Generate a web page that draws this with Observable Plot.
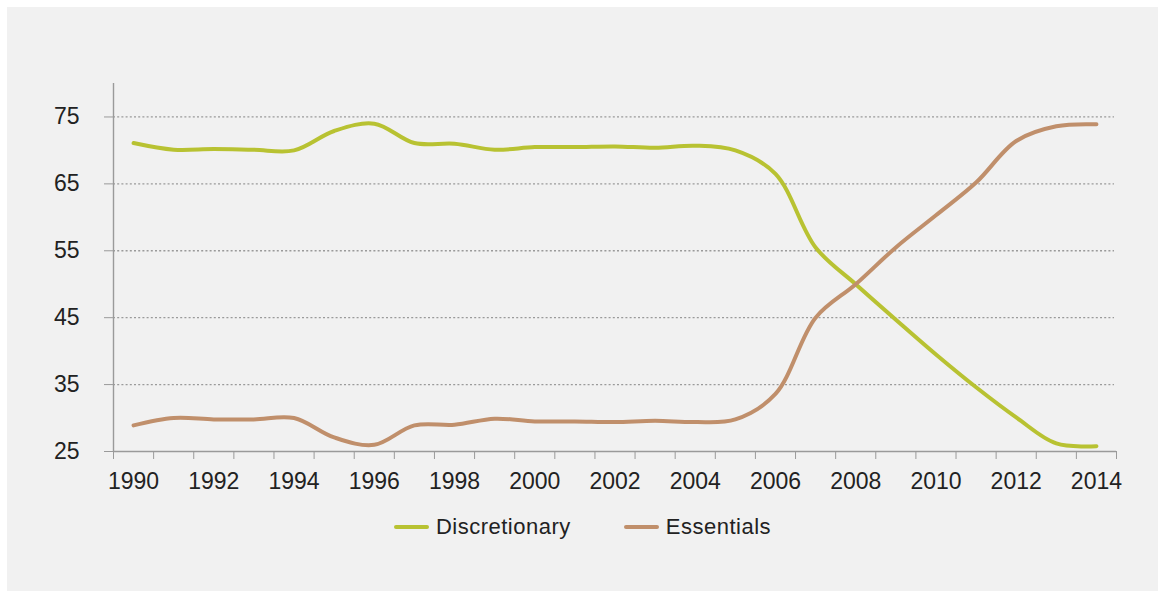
<!DOCTYPE html>
<html>
<head>
<meta charset="utf-8">
<script src="https://cdn.jsdelivr.net/npm/d3@7"></script>
<script src="https://cdn.jsdelivr.net/npm/@observablehq/plot@0.6"></script>
<style>
  html, body { margin: 0; padding: 0; background: #ffffff; }
  #panel {
    position: absolute; left: 7px; top: 7px; width: 1151px; height: 584px;
    background: #f1f1f1; font-family: "Liberation Sans", Arial, Helvetica, sans-serif;
  }
  #legend {
    position: absolute; left: 0; top: 506px; width: 1151px; height: 28px;
    display: flex; justify-content: center; align-items: center; gap: 53px;
    font-size: 22px; color: #222; letter-spacing: 0.5px;
  }
  .item { display: flex; align-items: center; gap: 7px; }
  .swatch { width: 35px; height: 4px; border-radius: 2px; }
</style>
</head>
<body>
<div id="panel"><div id="chart"></div><div id="legend"></div></div>
<script>
// Share of spending, by year
const years = [1990, 1991, 1992, 1993, 1994, 1995, 1996, 1997, 1998, 1999, 2000, 2001, 2002,
               2003, 2004, 2005, 2006, 2007, 2008, 2009, 2010, 2011, 2012, 2013, 2014];
const discretionary = [71.1, 70.1, 70.2, 70.1, 70.0, 72.9, 74.0, 71.1, 71.0, 70.1, 70.5, 70.5, 70.6,
                       70.4, 70.7, 70.0, 66.5, 55.5, 50.0, 44.7, 39.5, 34.6, 30.1, 26.2, 25.8];
const essentials = [28.9, 30.0, 29.8, 29.8, 30.0, 27.1, 26.0, 28.9, 29.0, 29.9, 29.5, 29.5, 29.4,
                    29.6, 29.4, 29.8, 33.6, 45.0, 50.0, 55.5, 60.3, 65.2, 71.4, 73.6, 73.9];
const seriesNames = ["Discretionary", "Essentials"];
const seriesColors = ["#b8c232", "#c08f6b"];
const yTicks = [25, 35, 45, 55, 65, 75];
const xLabelYears = [1990, 1992, 1994, 1996, 1998, 2000, 2002, 2004, 2006, 2008, 2010, 2012, 2014];

const rows = [];
years.forEach((yr, i) => {
  rows.push({year: yr, value: discretionary[i], series: seriesNames[0]});
  rows.push({year: yr, value: essentials[i], series: seriesNames[1]});
});
// boundaries between year slots carry the small tick marks
const boundaries = [years[0] - 0.5, ...years.map(y => y + 0.5)];

const font = "'Liberation Sans', Arial, Helvetica, sans-serif";
const axisColor = "#9a9a9a";

const chart = Plot.plot({
  width: 1151,
  height: 500,
  marginLeft: 106,
  marginRight: 42,
  marginTop: 76,
  marginBottom: 56,
  style: {background: "transparent", fontFamily: font, color: "#222"},
  x: {domain: [boundaries[0], boundaries[boundaries.length - 1]]},
  y: {domain: [25, 80]},
  color: {domain: seriesNames, range: seriesColors},
  marks: [
    Plot.gridY(yTicks.slice(1), {stroke: axisColor, strokeOpacity: 1, strokeWidth: 1.3, strokeDasharray: "2,2.2", x1: boundaries[0], x2: 2014.45}),
    Plot.ruleX([boundaries[0]], {y1: 25, y2: 80, stroke: axisColor, strokeWidth: 1.4}),
    Plot.ruleY([25], {stroke: axisColor, strokeWidth: 1.4}),
    Plot.axisY({ticks: yTicks, tickSize: 9, tickPadding: 25, stroke: axisColor, fontSize: 23, fill: "#222", label: null, style: {letterSpacing: "1.3px"}}),
    Plot.axisX({ticks: boundaries, tickSize: 8, tickFormat: () => "", stroke: axisColor, label: null}),
    Plot.axisX({ticks: xLabelYears, tickSize: 0, tickPadding: 21, tickFormat: d => String(d), fontSize: 23, fill: "#222", label: null, style: {letterSpacing: "1px"}}),
    Plot.line(rows, {x: "year", y: "value", z: "series", stroke: "series", strokeWidth: 4, curve: "catmull-rom"})
  ]
});
document.getElementById("chart").appendChild(chart);

const legend = document.getElementById("legend");
seriesNames.forEach((name, i) => {
  const item = document.createElement("div");
  item.className = "item";
  const sw = document.createElement("span");
  sw.className = "swatch";
  sw.style.background = seriesColors[i];
  const label = document.createElement("span");
  label.textContent = name;
  item.appendChild(sw);
  item.appendChild(label);
  legend.appendChild(item);
});
</script>
</body>
</html>
